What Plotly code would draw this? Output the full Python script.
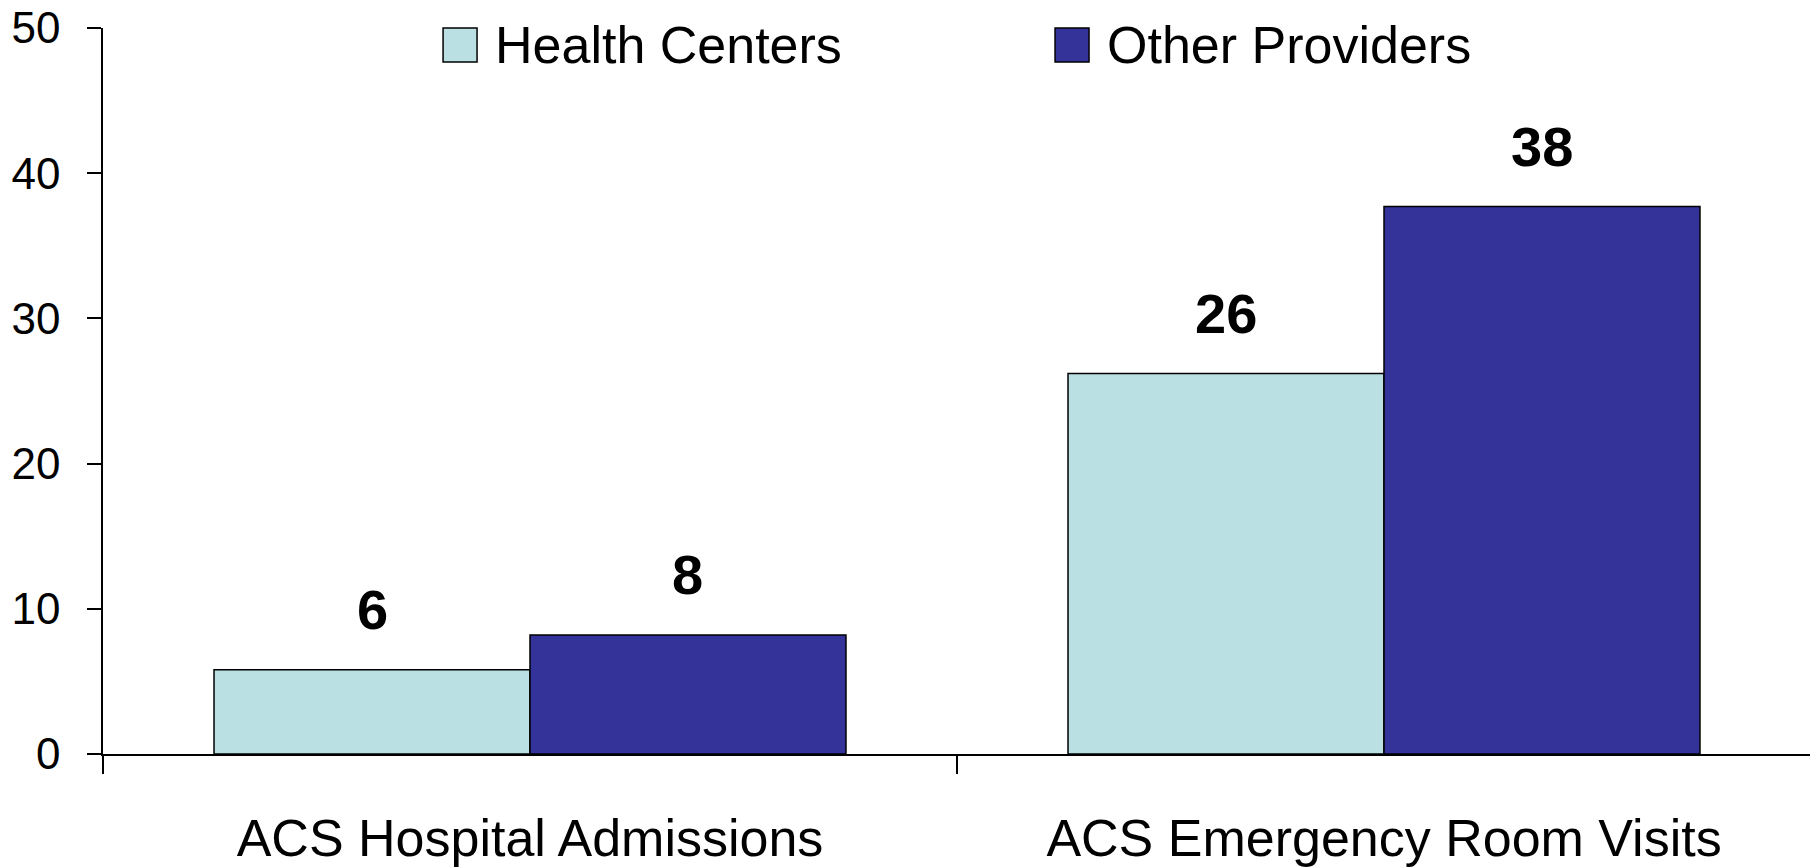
import plotly.graph_objects as go

categories = ["ACS Hospital Admissions", "ACS Emergency Room Visits"]
series_names = ["Health Centers", "Other Providers"]
health_centers = [5.8, 26.2]
other_providers = [8.2, 37.7]
labels_hc = ["6", "26"]
labels_op = ["8", "38"]
colors = ["#BBE0E3", "#333399"]
y_ticks = [0, 10, 20, 30, 40, 50]

font = "Liberation Sans, Arial, sans-serif"
bargap = 0.26

fig = go.Figure()
for name, vals, col in zip(series_names, [health_centers, other_providers], colors):
    fig.add_trace(go.Bar(
        x=categories, y=vals, name=name, showlegend=False,
        marker=dict(color=col, line=dict(color="black", width=1.5)),
    ))

# value labels above the bars (grouped offsets from the bar width)
half = (1 - bargap) / 4
for i, cat in enumerate(categories):
    for off, vals, labs in [(-half, health_centers, labels_hc), (half, other_providers, labels_op)]:
        fig.add_annotation(
            x=i + off, y=vals[i], xref="x", yref="y", text="<b>%s</b>" % labs[i],
            showarrow=False, yanchor="middle", yshift=60,
            font=dict(family=font, size=56, color="black"),
        )

# legend drawn by hand so the swatches get the big square look
legend_x = [0.1991, 0.5574]
sw = 0.0199
for lx, name, col in zip(legend_x, series_names, colors):
    fig.add_shape(type="rect", xref="paper", yref="paper",
                  x0=lx, x1=lx + sw, y0=0.9532, y1=1.0,
                  fillcolor=col, line=dict(color="black", width=1.5))
    fig.add_annotation(x=lx + sw + 0.0093, y=0.9766, xref="paper", yref="paper",
                       text=name, showarrow=False, xanchor="left", yanchor="middle",
                       font=dict(family=font, size=52, color="black"))

# page body adds an 8px offset, margins account for it
fig.update_layout(
    width=1818, height=867,
    margin=dict(l=95, r=15, t=20, b=121, autoexpand=False),
    paper_bgcolor="white", plot_bgcolor="white",
    barmode="group", bargap=bargap, bargroupgap=0,
    font=dict(family=font, color="black"),
)
fig.update_xaxes(
    range=[-0.5, 1.5], showline=True, linecolor="black", linewidth=1.5,
    ticks="outside", tickson="boundaries", ticklen=18, tickwidth=1.5, tickcolor="black",
    tickfont=dict(size=52), ticklabelstandoff=38, showgrid=False, automargin=False,
    ticklabeloverflow="allow",
)
fig.update_yaxes(
    range=[0, 50], tickvals=y_ticks, showline=True, linecolor="black", linewidth=1.5,
    ticks="outside", ticklen=14, tickwidth=1.5, tickcolor="black",
    tickfont=dict(size=44), ticklabelstandoff=18, showgrid=False, zeroline=False,
    automargin=False, ticklabeloverflow="allow",
)

fig.write_html("out.html")
